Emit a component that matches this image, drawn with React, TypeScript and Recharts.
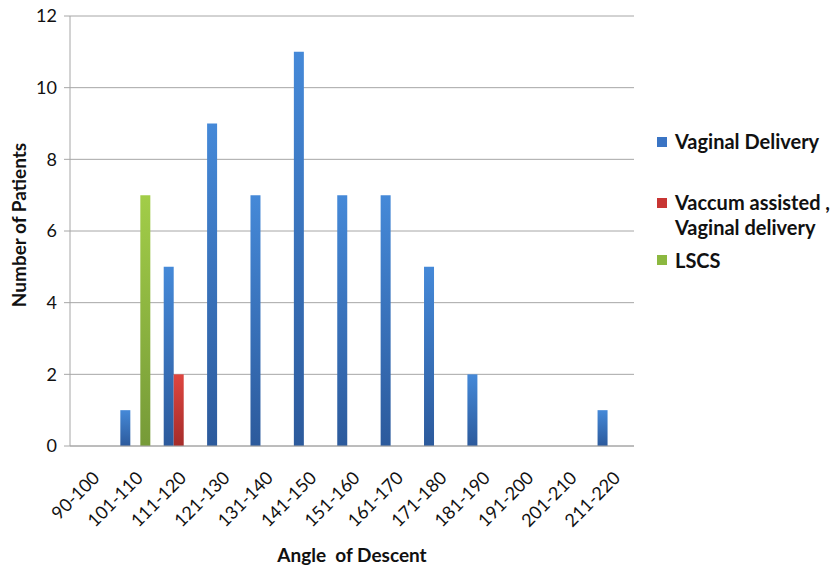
import React from 'react';
import { BarChart, Bar, XAxis, YAxis, CartesianGrid, Legend } from 'recharts';

const categories = ['90-100', '101-110', '111-120', '121-130', '131-140', '141-150', '151-160', '161-170', '171-180', '181-190', '191-200', '201-210', '211-220'];
const vaginal = [0, 1, 5, 9, 7, 11, 7, 7, 5, 2, 0, 0, 1];
const vaccum = [0, 0, 2, 0, 0, 0, 0, 0, 0, 0, 0, 0, 0];
const lscs = [0, 7, 0, 0, 0, 0, 0, 0, 0, 0, 0, 0, 0];
const yTicks = [0, 2, 4, 6, 8, 10, 12];

const data = categories.map((c, i) => ({ cat: c, vaginal: vaginal[i], vaccum: vaccum[i], lscs: lscs[i] }));

const FONT = 'Lato, "Open Sans", sans-serif';

const XTick = (props: any) => {
  const { x, y, payload } = props;
  const ax = x + 9;
  const ay = y + 25;
  return (
    <text x={ax} y={ay} textAnchor="end" transform={`rotate(-45, ${ax}, ${ay})`} fontSize={18} fontFamily={FONT} fill="#111">
      {payload.value}
    </text>
  );
};

const sq = (color: string, top: number) => (
  <span style={{ position: 'absolute', left: 0, top, width: 10, height: 10, background: color }} />
);
const line = (text: string, top: number) => (
  <span style={{ position: 'absolute', left: 18, top, whiteSpace: 'nowrap', lineHeight: '24px' }}>{text}</span>
);

const LegendContent = () => (
  <div style={{ position: 'relative', width: 178, height: 300, fontFamily: FONT, fontWeight: 700, fontSize: 20, color: '#111' }}>
    {sq('#3a74c4', 137)}
    {line('Vaginal Delivery', 129)}
    {sq('#c83533', 198)}
    {line('Vaccum assisted ,', 190)}
    {line('Vaginal delivery', 215)}
    {sq('#8cb840', 255)}
    {line('LSCS', 248)}
  </div>
);

export default function App() {
  return (
    <div style={{ position: 'absolute', left: 0, top: 0, width: 833, height: 567, background: '#fff' }}>
      <BarChart width={833} height={567} data={data} margin={{ top: 16, right: 23, left: 10, bottom: 0 }} barGap={0} barCategoryGap="16%">
        <defs>
          <linearGradient id="gBlue" x1="0" y1="0" x2="0" y2="1">
            <stop offset="0%" stopColor="#4589d8" />
            <stop offset="100%" stopColor="#2c5a9c" />
          </linearGradient>
          <linearGradient id="gRed" x1="0" y1="0" x2="0" y2="1">
            <stop offset="0%" stopColor="#de4640" />
            <stop offset="100%" stopColor="#a52c2a" />
          </linearGradient>
          <linearGradient id="gGreen" x1="0" y1="0" x2="0" y2="1">
            <stop offset="0%" stopColor="#a2cd48" />
            <stop offset="100%" stopColor="#769a38" />
          </linearGradient>
        </defs>
        <CartesianGrid vertical={false} stroke="#a6a6a6" strokeWidth={1} />
        <XAxis
          dataKey="cat"
          height={121}
          interval={0}
          tickLine={false}
          axisLine={{ stroke: '#a6a6a6' }}
          tick={<XTick />}
          label={{
            content: (p: any) => {
              const vb = p.viewBox;
              return (
                <text x={vb.x + vb.width / 2} y={562} textAnchor="middle" fontSize={19} fontWeight={700} fontFamily={FONT} fill="#111" style={{ whiteSpace: 'pre' }}>
                  {'Angle\u00a0 of Descent'}
                </text>
              );
            },
          }}
        />
        <YAxis
          width={60}
          domain={[0, 12]}
          ticks={yTicks}
          tickSize={6}
          tickLine={{ stroke: '#a6a6a6' }}
          axisLine={{ stroke: '#a6a6a6' }}
          tick={{ fontSize: 18, fontFamily: FONT, fill: '#111' }}
          tickMargin={7}
          label={{
            content: () => {
              const cx = 26;
              const cy = 225;
              return (
                <text x={cx} y={cy} textAnchor="middle" transform={`rotate(-90, ${cx}, ${cy})`} fontSize={19} fontWeight={700} fontFamily={FONT} fill="#111">
                  Number of Patients
                </text>
              );
            },
          }}
        />
        <Legend layout="horizontal" verticalAlign="middle" align="right" content={<LegendContent />} wrapperStyle={{ position: 'absolute', left: 657, top: 0, width: 176 }} />
        <Bar dataKey="vaginal" name="Vaginal Delivery" fill="url(#gBlue)" isAnimationActive={false} />
        <Bar dataKey="vaccum" name="Vaccum assisted , Vaginal delivery" fill="url(#gRed)" isAnimationActive={false} />
        <Bar dataKey="lscs" name="LSCS" fill="url(#gGreen)" isAnimationActive={false} />
      </BarChart>
    </div>
  );
}
